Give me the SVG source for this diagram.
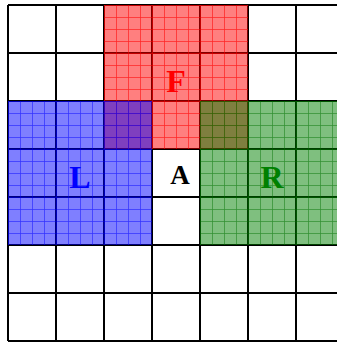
<svg xmlns="http://www.w3.org/2000/svg" width="337" height="342" viewBox="0 0 337 342">
<style>
.grid line{stroke:#000;stroke-width:2}
.lbl{font-family:"Liberation Serif",serif;font-weight:bold;text-anchor:middle}
</style>
<defs>
<pattern id="pr" patternUnits="userSpaceOnUse" x="8" y="5" width="12" height="12"><path d="M0 0H12M0 0V12" stroke="#ff0000" stroke-opacity="0.7" stroke-width="1.5" fill="none"/></pattern>
<pattern id="pb" patternUnits="userSpaceOnUse" x="8" y="5" width="12" height="12"><path d="M0 0H12M0 0V12" stroke="#0000ff" stroke-opacity="0.6" stroke-width="1.5" fill="none"/></pattern>
<pattern id="pg" patternUnits="userSpaceOnUse" x="8" y="5" width="12" height="12"><path d="M0 0H12M0 0V12" stroke="#007000" stroke-opacity="0.6" stroke-width="1.5" fill="none"/></pattern>
</defs>
<rect width="337" height="342" fill="#fff"/>
<g class="grid" id="grid">
<line x1="8" y1="5" x2="8" y2="341"/><line x1="56" y1="5" x2="56" y2="341"/><line x1="104" y1="5" x2="104" y2="341"/><line x1="152" y1="5" x2="152" y2="341"/><line x1="200" y1="5" x2="200" y2="341"/><line x1="248" y1="5" x2="248" y2="341"/><line x1="296" y1="5" x2="296" y2="341"/>
<line x1="8" y1="5" x2="344" y2="5"/><line x1="8" y1="53" x2="344" y2="53"/><line x1="8" y1="101" x2="344" y2="101"/><line x1="8" y1="149" x2="344" y2="149"/><line x1="8" y1="197" x2="344" y2="197"/><line x1="8" y1="245" x2="344" y2="245"/><line x1="8" y1="293" x2="344" y2="293"/><line x1="8" y1="341" x2="344" y2="341"/>
</g>
<g id="F">
<rect x="104" y="5" width="144" height="144" fill="#ff0000" fill-opacity="0.5"/>
<rect x="104" y="5" width="144" height="144" fill="url(#pr)"/>
</g>
<g id="L">
<rect x="8" y="101" width="144" height="144" fill="#0000ff" fill-opacity="0.5"/>
<rect x="8" y="101" width="144" height="144" fill="url(#pb)"/>
</g>
<g id="R">
<rect x="200" y="101" width="144" height="144" fill="#008000" fill-opacity="0.5"/>
<rect x="200" y="101" width="144" height="144" fill="url(#pg)"/>
</g>
<g id="labels">
<text class="lbl" x="176" y="92" font-size="32" fill="#ff0000">F</text>
<text class="lbl" x="80" y="188" font-size="32" fill="#0000ff">L</text>
<text class="lbl" x="272" y="188" font-size="32" fill="#008000">R</text>
</g>
<g id="A">
<text class="lbl" x="180" y="184" font-size="27" fill="#000">A</text>
</g>
</svg>
